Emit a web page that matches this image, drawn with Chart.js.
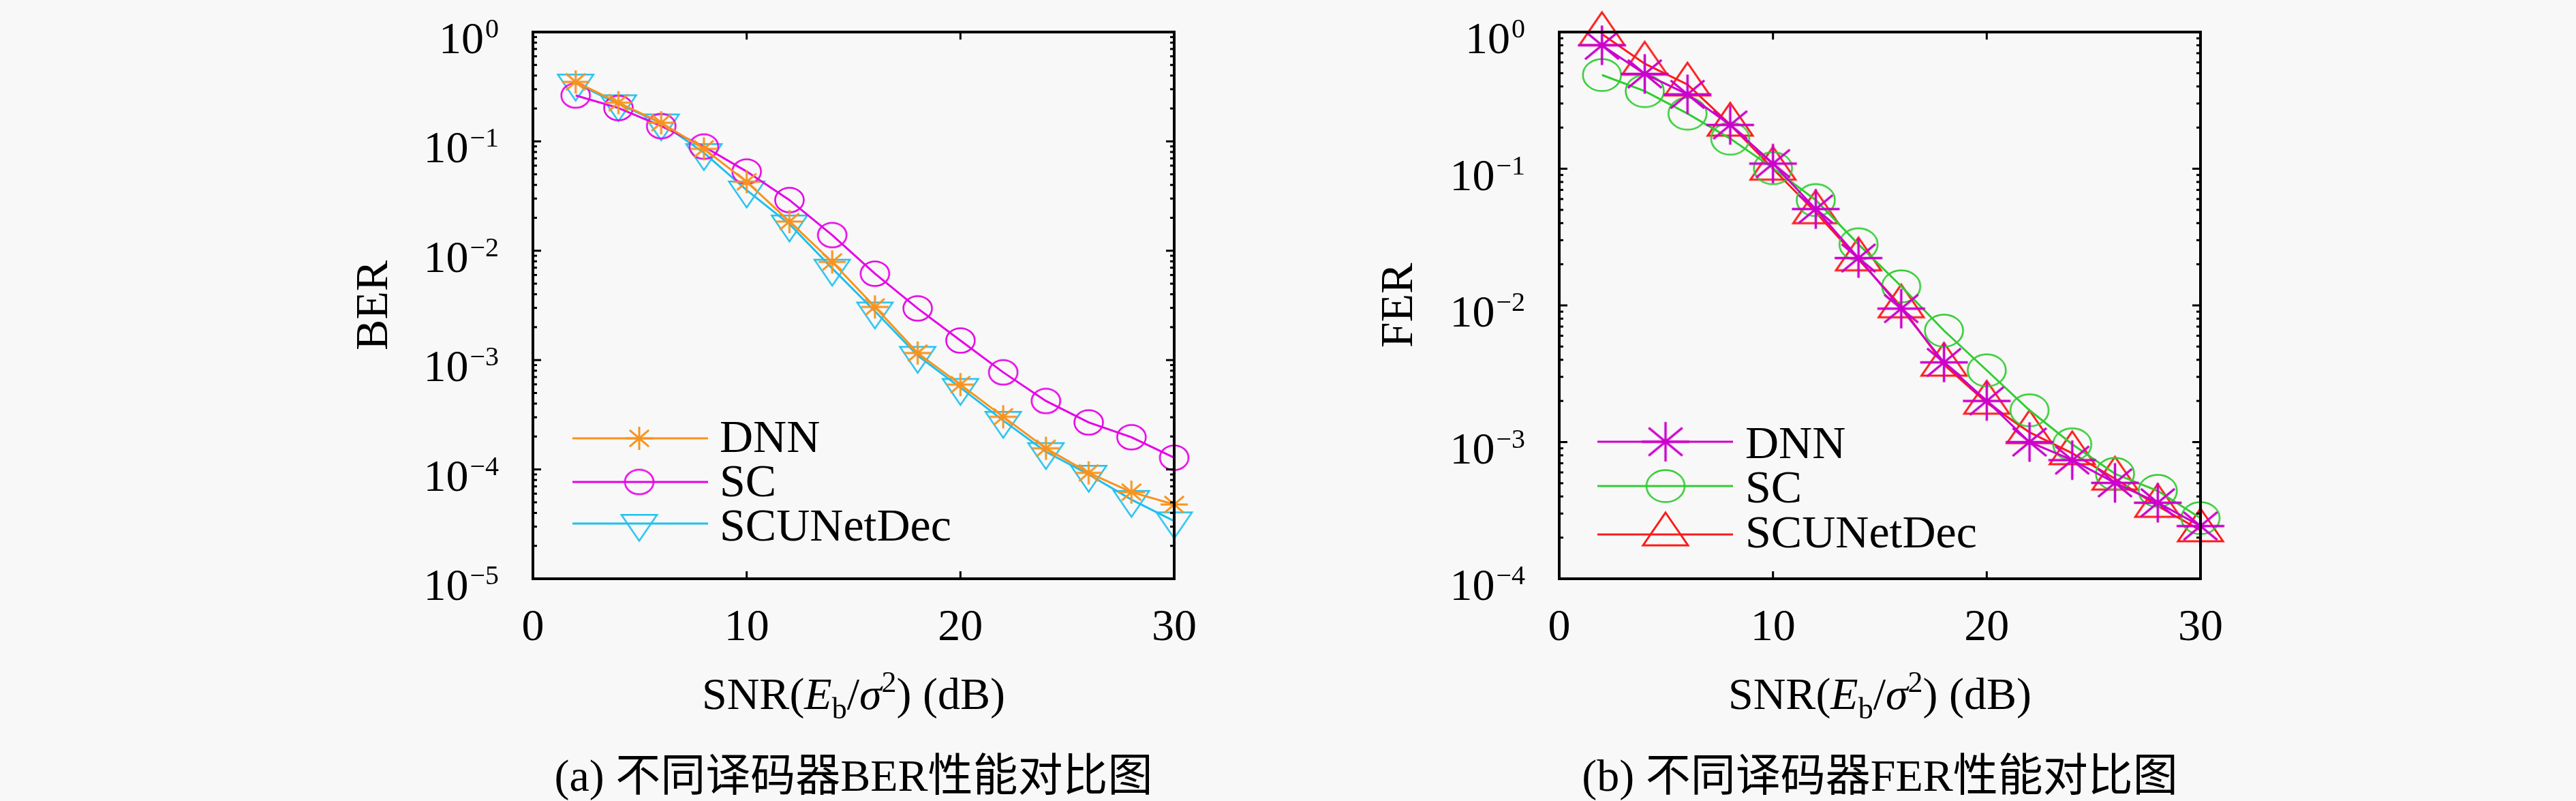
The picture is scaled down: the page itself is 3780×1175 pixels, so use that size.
<!DOCTYPE html>
<html>
<head>
<meta charset="utf-8">
<script src="https://cdn.jsdelivr.net/npm/chart.js@4.4.1/dist/chart.umd.min.js"></script>
<style>
  html, body { margin: 0; padding: 0; background: #f8f8f8; }
  #wrap { display: flex; width: 3780px; height: 1175px; }
  canvas { display: block; }
</style>
</head>
<body>
<div id="wrap">
  <canvas id="berChart" width="1890" height="1175"></canvas>
  <canvas id="ferChart" width="1890" height="1175"></canvas>
</div>
<script>
// x values (SNR in dB) and x tick labels
const snr = [2, 4, 6, 8, 10, 12, 14, 16, 18, 20, 22, 24, 26, 28, 30];
const xTicks = [0, 10, 20, 30];
const seriesNames = ['DNN', 'SC', 'SCUNetDec'];

// (a) BER
const berDnn = [0.35, 0.226, 0.148, 0.0855, 0.0427, 0.0185, 0.0079, 0.00306, 0.00116, 0.000597, 0.000303, 0.000156, 0.000093, 0.000062, 0.0000478];
const berSc  = [0.263, 0.202, 0.138, 0.0897, 0.053, 0.0291, 0.0139, 0.00617, 0.00297, 0.00151, 0.000773, 0.000423, 0.000269, 0.000197, 0.000128];
const berScu = [0.34, 0.22, 0.147, 0.0787, 0.0358, 0.0175, 0.0069, 0.0028, 0.0011, 0.00056, 0.00028, 0.000145, 0.00009, 0.000053, 0.0000337];
const berExps = [0, -1, -2, -3, -4, -5];

// (b) FER
const ferDnn = [0.80, 0.494, 0.35, 0.209, 0.109, 0.0507, 0.0222, 0.00947, 0.00383, 0.0020, 0.0010, 0.000738, 0.000503, 0.00036, 0.000243];
const ferSc  = [0.485, 0.37, 0.253, 0.166, 0.101, 0.059, 0.028, 0.0138, 0.00654, 0.00335, 0.00171, 0.000964, 0.000586, 0.00044, 0.000278];
const ferScu = [0.966, 0.587, 0.413, 0.21, 0.1, 0.048, 0.0217, 0.00984, 0.00368, 0.00194, 0.00118, 0.000828, 0.00054, 0.000341, 0.000226];
const ferExps = [0, -1, -2, -3, -4];

const SERIF = '"Liberation Serif", "Noto Sans CJK SC", serif';

// markers are slightly wider than tall in the reference, so draw them on small canvases
function marker(kind, a, b, color, lw) {
  const c = document.createElement('canvas');
  const pad = lw + 2;
  let h = 2 * b + 2 * pad;
  if (kind === 'triUp' || kind === 'triDown') h = 2 * (2 * b / 3) + 2 * pad;
  c.width = Math.ceil(2 * a + 2 * pad);
  c.height = Math.ceil(h);
  const g = c.getContext('2d');
  const cx = c.width / 2, cy = c.height / 2;
  g.strokeStyle = color;
  g.lineWidth = lw;
  g.beginPath();
  if (kind === 'circle') {
    g.ellipse(cx, cy, a, b, 0, 0, Math.PI * 2);
  } else if (kind === 'star') {
    const d = Math.SQRT1_2;
    [[a, 0], [0, b], [a * d, b * d], [a * d, -b * d]].forEach(([dx, dy]) => {
      g.moveTo(cx - dx, cy - dy);
      g.lineTo(cx + dx, cy + dy);
    });
  } else {
    const s = kind === 'triUp' ? 1 : -1;
    g.moveTo(cx, cy - s * 2 * b / 3);
    g.lineTo(cx + a, cy + s * b / 3);
    g.lineTo(cx - a, cy + s * b / 3);
    g.closePath();
  }
  g.stroke();
  return c;
}

function series(label, values, color, style) {
  return {
    label,
    data: snr.map((s, i) => ({ x: s, y: values[i] })),
    borderColor: color,
    backgroundColor: color,
    borderWidth: 3,
    pointStyle: style,
    pointRadius: 20,
    pointHoverRadius: 20,
    tension: 0,
    clip: false
  };
}

function line(ctx, x0, y0, x1, y1) {
  ctx.beginPath();
  ctx.moveTo(x0, y0);
  ctx.lineTo(x1, y1);
  ctx.stroke();
}

// frame, inside ticks, power-of-ten labels, x title, legend, caption
const decor = {
  id: 'decor',
  afterDatasetsDraw(chart, args, opts) {
    const { ctx, chartArea: a, scales: { x, y } } = chart;
    ctx.save();
    ctx.strokeStyle = '#000';
    ctx.fillStyle = '#000';

    // ticks
    ctx.lineWidth = 3;
    xTicks.forEach(v => {
      const px = x.getPixelForValue(v);
      line(ctx, px, a.bottom, px, a.bottom - 11);
      line(ctx, px, a.top, px, a.top + 11);
    });
    const minExp = Math.min(...opts.exps);
    for (let e = minExp; e <= 0; e++) {
      const py = y.getPixelForValue(Math.pow(10, e));
      line(ctx, a.left, py, a.left + 12, py);
      line(ctx, a.right, py, a.right - 12, py);
      if (e === 0) continue;
      for (let k = 2; k <= 9; k++) {
        const pm = y.getPixelForValue(k * Math.pow(10, e));
        line(ctx, a.left, pm, a.left + 6, pm);
        line(ctx, a.right, pm, a.right - 6, pm);
      }
    }

    // frame
    ctx.lineWidth = 4;
    ctx.strokeRect(a.left, a.top, a.right - a.left, a.bottom - a.top);

    // y tick labels 10^e
    ctx.textAlign = 'left';
    ctx.textBaseline = 'alphabetic';
    opts.exps.forEach(e => {
      const py = y.getPixelForValue(Math.pow(10, e));
      const sup = String(e).replace('-', '\u2212');
      ctx.font = '66px ' + SERIF;
      const wb = ctx.measureText('10').width;
      ctx.font = '40px ' + SERIF;
      const ws = ctx.measureText(sup).width;
      const x0 = a.left - 50 - ws - wb - 2;
      ctx.font = '66px ' + SERIF;
      ctx.fillText('10', x0, py + 31);
      ctx.font = '40px ' + SERIF;
      ctx.fillText(sup, x0 + wb + 2, py + 8);
    });

    // x title: SNR(E_b/sigma^2) (dB)
    const N = '66px ' + SERIF, I = 'italic 66px ' + SERIF, S = '44px ' + SERIF;
    const parts = [['SNR(', N, 0], ['E', I, 0], ['b', S, 14], ['/', N, 0], ['\u03C3', I, 0], ['2', S, -25], [') (dB)', N, 0]];
    let tw = 0;
    parts.forEach(p => { ctx.font = p[1]; p.push(ctx.measureText(p[0]).width); tw += p[3]; });
    let tx = (a.left + a.right) / 2 - tw / 2;
    parts.forEach(p => { ctx.font = p[1]; ctx.fillText(p[0], tx, opts.xTitleY + p[2]); tx += p[3]; });

    // legend
    const lg = opts.legend;
    chart.data.datasets.forEach((ds, i) => {
      ctx.strokeStyle = ds.borderColor;
      ctx.lineWidth = 3;
      line(ctx, lg.x0, lg.ly[i], lg.x1, lg.ly[i]);
      const img = ds.pointStyle;
      ctx.drawImage(img, lg.mx - img.width / 2, lg.ly[i] - img.height / 2);
      ctx.fillStyle = '#000';
      ctx.font = '68px ' + SERIF;
      ctx.fillText(ds.label, lg.tx, lg.ty[i]);
    });

    // caption
    ctx.font = '66px ' + SERIF;
    ctx.textAlign = 'center';
    ctx.fillText(opts.caption, (a.left + a.right) / 2, opts.captionY);
    ctx.restore();
  }
};

function makeChart(id, cfg) {
  return new Chart(document.getElementById(id), {
    type: 'line',
    data: { datasets: cfg.datasets },
    options: {
      responsive: false,
      animation: false,
      devicePixelRatio: 1,
      events: [],
      layout: { padding: { left: cfg.padLeft, right: cfg.padRight, top: 47, bottom: 126 } },
      plugins: {
        legend: { display: false },
        tooltip: { enabled: false },
        decor: cfg.decor
      },
      scales: {
        x: {
          type: 'linear',
          min: 0,
          max: 30,
          afterBuildTicks: s => { s.ticks = xTicks.map(v => ({ value: v })); },
          ticks: { font: { family: SERIF, size: 66 }, color: '#000', padding: 33, maxRotation: 0, autoSkip: false },
          grid: { display: false, drawTicks: false },
          border: { display: false },
          afterFit: s => { s.height = 200; }
        },
        y: {
          type: 'logarithmic',
          min: cfg.yMin,
          max: 1,
          ticks: { display: false },
          grid: { display: false, drawTicks: false },
          border: { display: false },
          title: { display: true, text: cfg.yTitle, color: '#000', font: { family: SERIF, size: 68 }, padding: { top: 29, bottom: 0 } },
          afterFit: s => { s.width = cfg.yWidth; }
        }
      }
    },
    plugins: [decor]
  });
}

makeChart('berChart', {
  datasets: [
    series(seriesNames[0], berDnn, '#f7931e', marker('star', 20, 17, '#f7931e', 3)),
    series(seriesNames[1], berSc, '#e600e6', marker('circle', 21, 18, '#e600e6', 2.5)),
    series(seriesNames[2], berScu, '#1ec0ee', marker('triDown', 26, 38, '#1ec0ee', 2.5))
  ],
  padLeft: 480, padRight: 167, yWidth: 302, yMin: 1e-5, yTitle: 'BER',
  decor: {
    exps: berExps,
    xTitleY: 1040,
    captionY: 1160,
    caption: '(a) 不同译码器BER性能对比图',
    legend: { x0: 840, x1: 1039, mx: 938, ly: [643, 707, 768], tx: 1056, ty: [663, 728, 793] }
  }
});

makeChart('ferChart', {
  datasets: [
    series(seriesNames[0], ferDnn, '#cc00cc', marker('star', 35, 29, '#cc00cc', 3.5)),
    series(seriesNames[1], ferSc, '#33cc33', marker('circle', 28, 23.5, '#33cc33', 2.5)),
    series(seriesNames[2], ferScu, '#ff1a1a', marker('triUp', 33, 48, '#ff1a1a', 3))
  ],
  padLeft: 94, padRight: 551, yWidth: 304, yMin: 1e-4, yTitle: 'FER',
  decor: {
    exps: ferExps,
    xTitleY: 1040,
    captionY: 1160,
    caption: '(b) 不同译码器FER性能对比图',
    legend: { x0: 454, x1: 653, mx: 554, ly: [648, 713, 784], tx: 671, ty: [672, 737, 803] }
  }
});
</script>
</body>
</html>
